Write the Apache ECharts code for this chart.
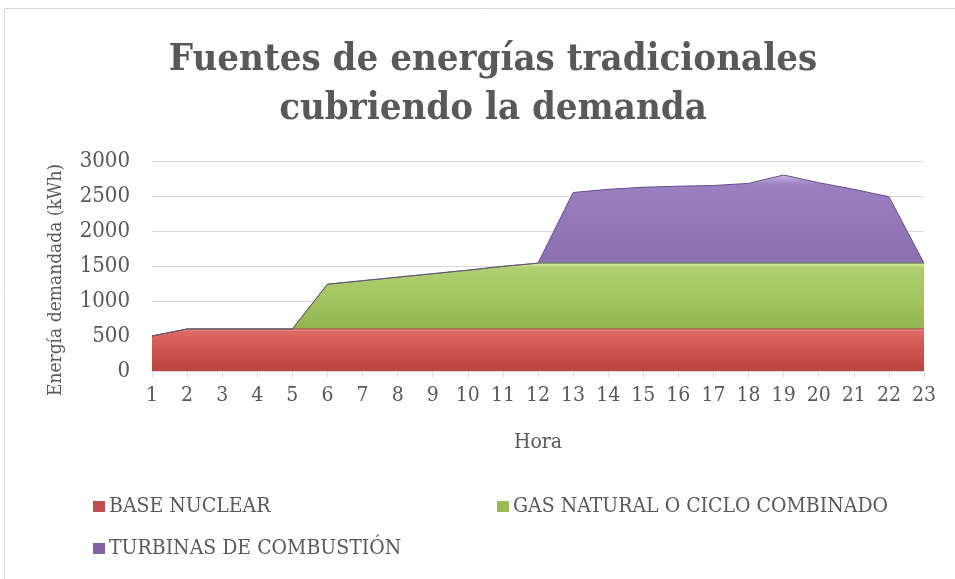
<!DOCTYPE html>
<html><head><meta charset="utf-8">
<script src="https://cdn.jsdelivr.net/npm/echarts@6/dist/echarts.min.js"></script>
<style>html,body{margin:0;padding:0;background:#fff}#c{width:955px;height:579px}</style>
</head><body><div id="c"></div>
<script>
const hours = ['1','2','3','4','5','6','7','8','9','10','11','12','13','14','15','16','17','18','19','20','21','22','23'];
const seriesNames = ['BASE NUCLEAR','GAS NATURAL O CICLO COMBINADO','TURBINAS DE COMBUSTIÓN'];
// stacked values (kWh)
const nuclear = [500,600,600,600,600,600,600,600,600,600,600,600,600,600,600,600,600,600,600,600,600,600,600];
const gas     = [0,0,0,0,0,640,690,740,790,840,895,940,940,940,940,940,940,940,940,940,940,940,940];
const turbinas= [0,0,0,0,0,0,0,0,0,0,0,0,1010,1055,1085,1100,1110,1140,1260,1150,1055,950,0];
const yTicks = [0,500,1000,1500,2000,2500,3000];

const FONT = '"DejaVu Serif Condensed","DejaVu Serif","Liberation Serif",serif';
const TXT = '#595959';
function grad(top, hi, mid, bot){
  return new echarts.graphic.LinearGradient(0,0,0,1,[
    {offset:0,color:top},{offset:0.06,color:hi},{offset:0.5,color:mid},{offset:1,color:bot}]);
}
const styles = [
  {fill:grad('#f4a6a3','#dc6a66','#d0534f','#b94440'), line:'#a33c39', icon:'#c0504d'},
  {fill:grad('#dcf0a8','#b0cf70','#a4c463','#8fae4e'), line:'#6f8c3a', icon:'#9bbb59'},
  {fill:grad('#c9b6e6','#9a80c0','#8c71b3','#7a5ea2'), line:'#654d8a', icon:'#8064a2'}
];
const datas = [nuclear, gas, turbinas];
const series = datas.map((d,i)=>({
  name: seriesNames[i], type:'line', stack:'total', data:d,
  symbol:'none', smooth:false,
  lineStyle:{width:1,color:styles[i].line},
  areaStyle:{color:styles[i].fill, opacity:1},
  itemStyle:{color:styles[i].icon},
  emphasis:{disabled:true}
}));
const legendBase = {icon:'rect', itemWidth:12, itemHeight:11, itemGap:10, padding:0,
  textStyle:{fontFamily:FONT,fontSize:21,color:TXT,padding:[0,0,0,-1]}};
const chart = echarts.init(document.getElementById('c'));
chart.setOption({
  animation:false,
  backgroundColor:'#fff',
  graphic:[{type:'rect',shape:{x:4.5,y:8.5,width:980,height:600},style:{fill:'none',stroke:'#d9d9d9',lineWidth:1},silent:true}],
  title:{text:'Fuentes de energías tradicionales\ncubriendo la demanda', left:488, textAlign:'center', top:31,
    textStyle:{fontFamily:FONT,fontWeight:'bold',fontSize:38,color:TXT,lineHeight:49}},
  legend:[
    Object.assign({},legendBase,{data:[seriesNames[0]],left:93,top:496}),
    Object.assign({},legendBase,{data:[seriesNames[1]],left:497,top:496}),
    Object.assign({},legendBase,{data:[seriesNames[2]],left:93,top:538})
  ],
  grid:{left:152,right:31,top:161,bottom:208,containLabel:false},
  xAxis:{type:'category',data:hours,boundaryGap:false,
    name:'Hora',nameLocation:'middle',nameGap:61,
    nameTextStyle:{fontFamily:FONT,fontSize:21,color:TXT},
    axisLine:{lineStyle:{color:'#d9d9d9',width:1}},
    axisTick:{show:true,alignWithLabel:true,length:6,lineStyle:{color:'#d9d9d9'}},
    axisLabel:{fontFamily:FONT,fontSize:21,color:TXT,margin:14,interval:0}},
  yAxis:{type:'value',min:0,max:3000,interval:500,
    name:'Energía demandada (kWh)',nameLocation:'middle',nameGap:86,
    nameTextStyle:{fontFamily:FONT,fontSize:19,color:TXT,padding:[0,28,0,0]},
    axisLine:{show:false},axisTick:{show:false},
    splitLine:{lineStyle:{color:'#d9d9d9',width:1}},
    axisLabel:{fontFamily:FONT,fontSize:22,color:TXT,margin:22,
      formatter:v=>yTicks.includes(v)?String(v):''}},
  series: series
});
</script></body></html>
